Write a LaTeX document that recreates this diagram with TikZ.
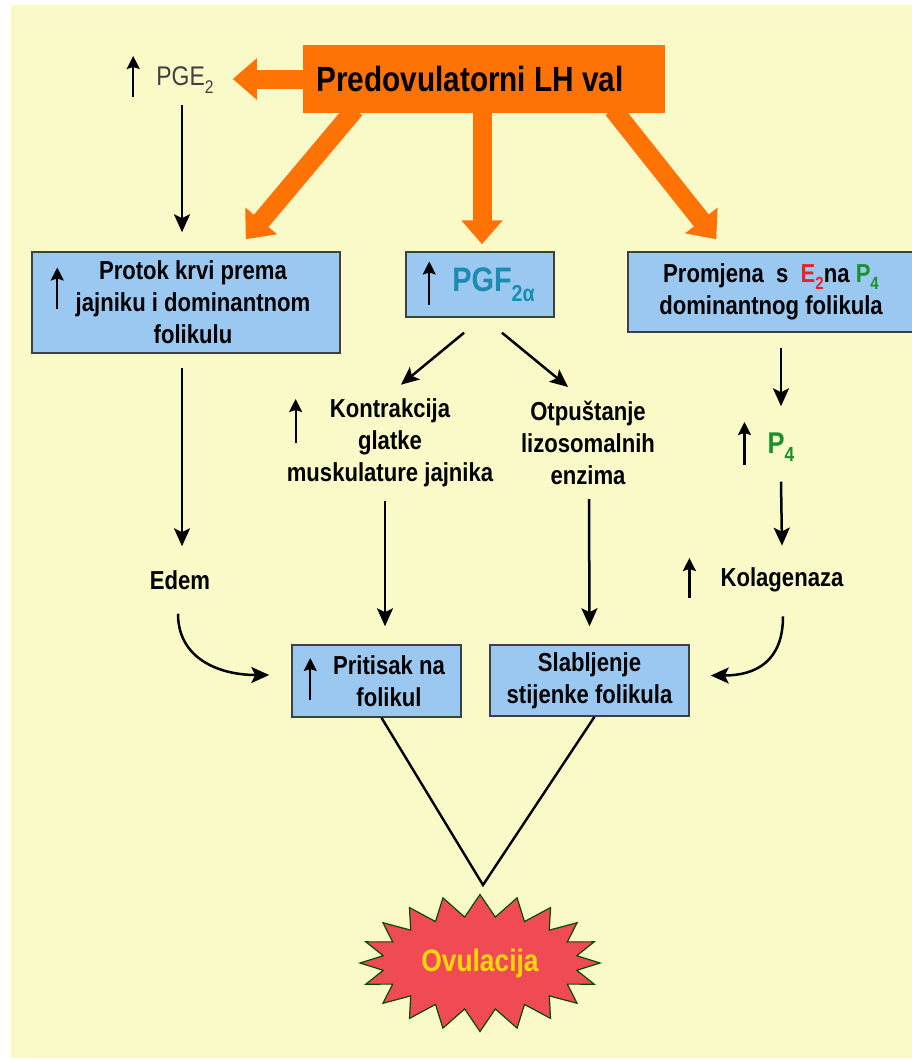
\documentclass[tikz,border=0pt]{standalone}
\usepackage{fontspec}
\setmainfont{Liberation Sans}[FakeStretch=0.85]
\usetikzlibrary{positioning}
\usetikzlibrary{arrows.meta}
\usetikzlibrary{shapes.symbols}

\definecolor{bgyellow}{RGB}{250,249,200}
\definecolor{lhorange}{RGB}{255,115,5}
\definecolor{boxblue}{RGB}{155,200,240}
\definecolor{pgfteal}{RGB}{25,140,175}
\definecolor{estred}{RGB}{230,35,45}
\definecolor{progreen}{RGB}{25,145,45}
\definecolor{burstred}{RGB}{240,75,85}
\definecolor{burstyellow}{RGB}{255,215,10}

% lowered, fairly large index as in the figure
\newcommand{\lowsub}[1]{\raisebox{-0.28em}{\scalebox{0.68}{#1}}}

\begin{document}
\begin{tikzpicture}[x=1pt,y=-1pt]
\tikzset{stage/.style={rectangle, draw=black!75, line width=1.5pt, fill=boxblue, align=center, font=\bfseries\fontsize{26}{32}\selectfont, inner sep=0pt}}
\tikzset{effect/.style={align=center, font=\bfseries\fontsize{26}{32}\selectfont, inner sep=2pt}}
\tikzset{surgebox/.style={rectangle, fill=lhorange, minimum width=362pt, minimum height=68pt, font=\bfseries\fontsize{35}{40}\selectfont, inner sep=0pt}}
\tikzset{surge/.style={draw=lhorange, line width=19pt, -{Triangle[length=24pt,width=40pt]}}}
\tikzset{flow/.style={line width=2.5pt, -{Stealth[length=18pt,width=16pt,inset=4pt]}}}
\tikzset{rise/.style={line width=2.2pt, -{Stealth[length=13pt,width=13pt,inset=2pt]}}}
\tikzset{burst/.style={starburst, starburst points=20, starburst point height=22pt, random starburst=0, fill=burstred, draw=black!70!green, line width=1.2pt, minimum width=240pt, minimum height=137pt, text=burstyellow, font=\bfseries\fontsize{31}{34}\selectfont, inner sep=0pt}}
\useasboundingbox (0,0) rectangle (912,1060);
\fill[bgyellow] (11,5) rectangle (912,1058);

% LH surge and its targets
\node[surgebox] (lh) at (484,79) {Predovulatorni LH val\hspace*{28pt}};
\node[font=\fontsize{27}{30}\selectfont, text=black!75, inner sep=2pt] (pge) at (185,80) {PGE\lowsub{2}};
\node[stage, minimum width=308pt, minimum height=101pt] (protok) at (186,302.5) {\hspace*{14pt}Protok krvi prema\\\hspace*{14pt}jajniku i dominantnom\\\hspace*{14pt}folikulu};
\node[stage, minimum width=148pt, minimum height=65pt, font=\bfseries\fontsize{34}{40}\selectfont, text=pgfteal] (pgf) at (480,284.5) {\hspace*{27pt}PGF\lowsub{2α}};
\node[stage, minimum width=286pt, minimum height=80pt] (promjena) at (771,292) {Promjena\ \ s\ \ \textcolor{estred}{E\lowsub{2}}na \textcolor{progreen}{P\lowsub{4}}\\dominantnog folikula};

% middle row
\node[effect] (kontr) at (390,443) {Kontrakcija\\glatke\\muskulature jajnika};
\node[effect] (otp) at (588,443) {Otpuštanje\\lizosomalnih\\enzima};
\node[effect, text=progreen, font=\bfseries\fontsize{30}{34}\selectfont] (p4) at (781,447) {P\lowsub{4}};
\node[effect] (edem) at (180,580) {Edem};
\node[effect] (kolag) at (782,580) {Kolagenaza};

% bottom
\node[stage, minimum width=169pt, minimum height=72pt] (pritisak) at (376.5,681) {\hspace*{25pt}Pritisak na\\\hspace*{25pt}folikul};
\node[stage, minimum width=199pt, minimum height=71pt] (slab) at (589.5,680.5) {Slabljenje\\stijenke folikula};
\coordinate (vtip) at (483,885);
\node[burst] (ovul) at (480,963) {Ovulacija};

% orange arrows
\draw[surge] (lh.west) -- ([xshift=17pt]pge.east |- lh.west);
\draw[surge] ([shift={(-129,-4)}]lh.south) -- ([shift={(-95,-12)}]protok.north east);
\draw[surge] ([shift={(-2,-4)}]lh.south) -- ([shift={(2,-7)}]pgf.north);
\draw[surge] ([shift={(129,-4)}]lh.south) -- ([shift={(89,-12)}]promjena.north west);

% black arrows
\draw[flow] ([shift={(-3,10)}]pge.south) -- ([shift={(-4,-19)}]protok.north);
\draw[flow] ([shift={(-4,14)}]protok.south) -- ([shift={(2,-22)}]edem.north);
\draw[flow] ([shift={(-16,15)}]pgf.south) -- ([shift={(11,-12)}]kontr.north);
\draw[flow] ([shift={(22,15)}]pgf.south) -- ([shift={(-20,-12)}]otp.north);
\draw[flow] ([shift={(10,15)}]promjena.south) -- ([shift={(0,-24)}]p4.north);
\draw[flow] ([shift={(0,18)}]p4.south) -- ([shift={(0,-20)}]kolag.north);
\draw[flow] ([shift={(-5,12)}]kontr.south) -- ([shift={(8.5,-18)}]pritisak.north);
\draw[flow] ([shift={(1,12)}]otp.south) -- ([shift={(0,-18)}]slab.north);
\draw[flow] ([shift={(-2,22)}]edem.south) .. controls +(0,45) and +(-50,0) .. ([shift={(-22,-6)}]pritisak.west);
\draw[flow] ([shift={(1,22)}]kolag.south) .. controls +(0,45) and +(45,0) .. ([shift={(21,-5)}]slab.east);
\draw[line width=2.4pt] ([xshift=5pt]pritisak.south) -- (vtip) -- ([xshift=5pt]slab.south);

% small rise arrows
\draw[rise] ([shift={(-21,17)}]pge.west) -- ++(0,-41);
\draw[rise] ([shift={(26,6)}]protok.west) -- ++(0,-41);
\draw[rise] ([shift={(24,20)}]pgf.west) -- ++(0,-43);
\draw[rise] ([shift={(11,0)}]kontr.west) -- ++(0,-44);
\draw[rise] ([shift={(-21,18)}]p4.west) -- ++(0,-43);
\draw[rise] ([shift={(-29,18)}]kolag.west) -- ++(0,-40);
\draw[rise] ([shift={(19,19)}]pritisak.west) -- ++(0,-42);
\end{tikzpicture}
\end{document}
